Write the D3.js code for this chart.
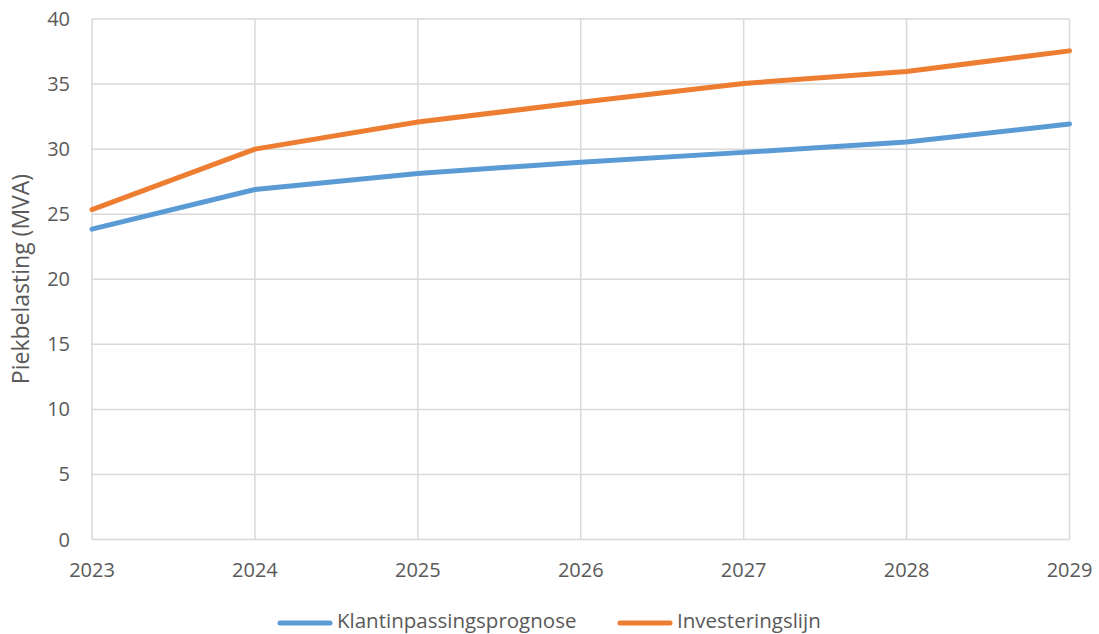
<!DOCTYPE html>
<html><head><meta charset="utf-8">
<script src="https://cdn.jsdelivr.net/npm/d3@7"></script>
<style>body{margin:0;background:#fff;} text{font-family:"Open Sans","Liberation Sans",sans-serif;fill:#595959;}</style>
</head><body><svg id="c" width="1099" height="634"></svg>
<script>
const years = [2023, 2024, 2025, 2026, 2027, 2028, 2029];
const klantValues = [23.85, 26.9, 28.13, 29.0, 29.75, 30.55, 31.93];
const investValues = [25.35, 30.0, 32.08, 33.6, 35.05, 35.97, 37.55];
const yTicks = [0, 5, 10, 15, 20, 25, 30, 35, 40];
const seriesNames = ["Klantinpassingsprognose", "Investeringslijn"];
const colors = ["#5B9BD5", "#ED7D31"];

const svg = d3.select("#c");
const x = d3.scalePoint().domain(years).range([92, 1069.5]);
const y = d3.scaleLinear().domain([0, 40]).range([539.5, 19]);

svg.append("g").selectAll("line").data(yTicks).join("line")
  .attr("x1", 92).attr("x2", 1069.5).attr("y1", d => y(d)).attr("y2", d => y(d))
  .attr("stroke", "#D9D9D9").attr("stroke-width", 1.5);
svg.append("g").selectAll("line").data(years).join("line")
  .attr("x1", d => x(d)).attr("x2", d => x(d)).attr("y1", y(40)).attr("y2", y(0))
  .attr("stroke", "#D9D9D9").attr("stroke-width", 1.5);

svg.append("g").selectAll("text").data(yTicks).join("text")
  .attr("x", 70).attr("y", d => y(d)).attr("dy", "0.35em")
  .attr("text-anchor", "end").style("font-size", "20px").text(d => d);
svg.append("g").selectAll("text").data(years).join("text")
  .attr("x", d => x(d)).attr("y", 577)
  .attr("text-anchor", "middle").style("font-size", "20px").text(d => d);

svg.append("text").attr("transform", "translate(29,279) rotate(-90)")
  .attr("text-anchor", "middle").style("font-size", "23px").text("Piekbelasting (MVA)");

const line = d3.line().x((d, i) => x(years[i])).y(d => y(d));
[klantValues, investValues].forEach((vals, i) => {
  svg.append("path").attr("d", line(vals)).attr("fill", "none")
    .attr("stroke", colors[i]).attr("stroke-width", 5).attr("stroke-linecap", "round").attr("stroke-linejoin", "round");
});

const legX = [280, 620];
seriesNames.forEach((n, i) => {
  svg.append("line").attr("x1", legX[i]).attr("x2", legX[i] + 50).attr("y1", 623).attr("y2", 623)
    .attr("stroke", colors[i]).attr("stroke-width", 5).attr("stroke-linecap", "round");
  svg.append("text").attr("x", legX[i] + 57).attr("y", 628).style("font-size", "20.5px").text(n);
});
</script></body></html>
